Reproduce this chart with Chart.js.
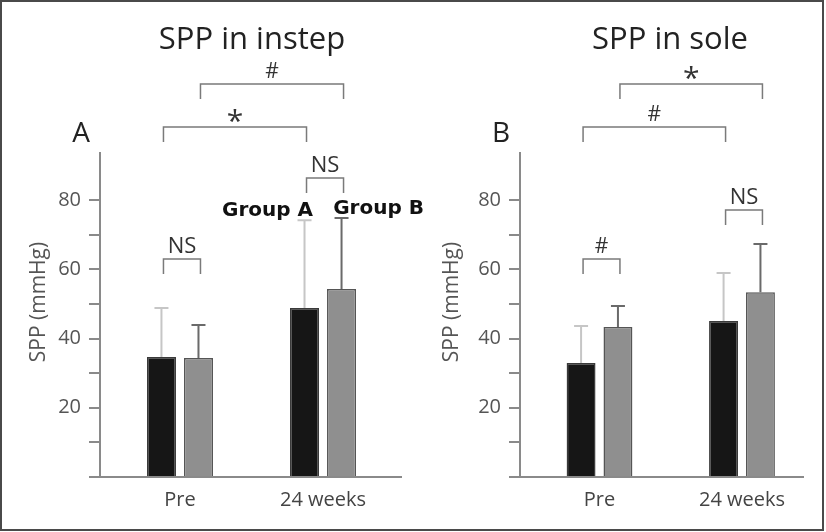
<!DOCTYPE html>
<html>
<head>
<meta charset="utf-8">
<script src="https://cdn.jsdelivr.net/npm/chart.js@4.4.0/dist/chart.umd.min.js"></script>
<style>
body { margin: 0; background: #fff; }
#wrap { position: relative; width: 826px; height: 532px; }
#frame { position: absolute; left: 0; top: 0; width: 824px; height: 531px; box-sizing: border-box; border: 2px solid #4a4a4a; pointer-events: none; }
canvas { position: absolute; top: 0; }
</style>
</head>
<body>
<div id="wrap">
  <canvas id="grafico1" width="440" height="532" style="left:0"></canvas>
  <canvas id="grafico2" width="413" height="532" style="left:413px"></canvas>
  <div id="frame"></div>
</div>
<script>
// dados //
const categorias = ['Pre', '24 weeks'];
const grupos = ['Group A', 'Group B'];
const instepGrupoA = [34.7, 48.8];
const instepGrupoASd = [14.1, 25.4];
const instepGrupoB = [34.4, 54.3];
const instepGrupoBSd = [9.5, 20.5];
const soleGrupoA = [32.9, 45.1];
const soleGrupoASd = [10.7, 13.8];
const soleGrupoB = [43.3, 53.4];
const soleGrupoBSd = [6.1, 13.9];
const yTicks = [20, 40, 60, 80];
// -------------------------------- //

const fonte = '"Open Sans", "Noto Sans", sans-serif';
const corEixo = '#8a8a8a';

function pontos(valores) {
    return valores.map((v, i) => ({ x: i, y: v }));
}

// plugin: barras de erro, colchetes e textos //
const pluginAnotacoes = {
    id: 'anotacoes',
    afterDatasetsDraw(chart) {
        const ctx = chart.ctx;
        const y = chart.scales.y;
        chart.data.datasets.forEach((ds, i) => {
            const meta = chart.getDatasetMeta(i);
            meta.data.forEach((bar, j) => {
                const topo = y.getPixelForValue(ds.data[j].y + ds.desvio[j]);
                ctx.save();
                ctx.strokeStyle = ds.corErro;
                ctx.lineWidth = 2;
                ctx.beginPath();
                ctx.moveTo(bar.x, bar.y);
                ctx.lineTo(bar.x, topo);
                ctx.moveTo(bar.x - 7, topo);
                ctx.lineTo(bar.x + 7, topo);
                ctx.stroke();
                ctx.restore();
            });
        });
    },
    afterDraw(chart, args, opts) {
        const ctx = chart.ctx;
        const y = chart.scales.y;
        const area = chart.chartArea;
        ctx.save();
        ctx.textAlign = 'center';
        ctx.textBaseline = 'alphabetic';

        // titulo //
        ctx.fillStyle = '#222';
        ctx.font = '31px ' + fonte;
        ctx.fillText(opts.titulo, opts.tituloX, 49);

        // letra do painel //
        ctx.font = '28px ' + fonte;
        ctx.fillText(opts.letra, area.left - 19, 142);

        // titulo do eixo y //
        ctx.save();
        ctx.fillStyle = '#555';
        ctx.font = '21px ' + fonte;
        ctx.translate(45, 302);
        ctx.rotate(-Math.PI / 2);
        ctx.fillText('SPP (mmHg)', 0, 0);
        ctx.restore();

        // colchetes //
        opts.colchetes.forEach(c => {
            const x1 = chart.getDatasetMeta(c.de[0]).data[c.de[1]].x + 2;
            const x2 = chart.getDatasetMeta(c.ate[0]).data[c.ate[1]].x + 2;
            const yb = y.getPixelForValue(c.nivel);
            ctx.strokeStyle = '#7a7a7a';
            ctx.lineWidth = 1.5;
            ctx.beginPath();
            ctx.moveTo(x1, yb + 15);
            ctx.lineTo(x1, yb);
            ctx.lineTo(x2, yb);
            ctx.lineTo(x2, yb + 15);
            ctx.stroke();
            const tam = c.texto === '*' ? 30 : (c.texto === '#' ? 21 : 22);
            ctx.font = tam + 'px ' + fonte;
            ctx.fillStyle = '#333';
            const m = ctx.measureText(c.texto);
            const cy = yb - (c.texto === '*' ? 11 : 14);
            ctx.fillText(c.texto, (x1 + x2) / 2, cy + (m.actualBoundingBoxAscent - m.actualBoundingBoxDescent) / 2);
        });

        // nomes dos grupos //
        if (opts.mostraGrupos) {
            ctx.fillStyle = '#111';
            ctx.font = 'bold 20px "DejaVu Sans", sans-serif';
            const a = chart.getDatasetMeta(0).data[1];
            const b = chart.getDatasetMeta(1).data[1];
            ctx.fillText(grupos[0], a.x - 37, 216);
            ctx.fillText(grupos[1], b.x + 37, 214);
        }
        ctx.restore();
    }
};

function criaGrafico(id, dadosA, sdA, dadosB, sdB, eixoX, padDir, xMin, xMax, anot) {
    return new Chart(document.getElementById(id), {
        type: 'bar',
        data: {
            datasets: [{
                label: grupos[0],
                data: pontos(dadosA),
                desvio: sdA,
                corErro: '#c6c6c6',
                backgroundColor: '#161616',
                borderColor: '#3a3a3a',
                borderWidth: 1.5
            }, {
                label: grupos[1],
                data: pontos(dadosB),
                desvio: sdB,
                corErro: '#6a6a6a',
                backgroundColor: '#8f8f8f',
                borderColor: '#555',
                borderWidth: 1.5
            }]
        },
        options: {
            responsive: false,
            animation: false,
            devicePixelRatio: 1,
            categoryPercentage: 0.5175,
            barPercentage: 0.784,
            layout: { padding: { top: 153, right: padDir, bottom: 0, left: 0 } },
            scales: {
                x: {
                    type: 'linear',
                    offset: false,
                    min: xMin,
                    max: xMax,
                    afterBuildTicks: s => { s.ticks = categorias.map((c, i) => ({ value: i })); },
                    afterFit: s => { s.height = 55; },
                    grid: { display: false, offset: false },
                    border: { display: true, color: corEixo, width: 2 },
                    ticks: {
                        callback: v => categorias[v],
                        font: { family: fonte, size: 20 },
                        color: '#444',
                        padding: 3,
                        maxRotation: 0
                    }
                },
                y: {
                    min: 0,
                    max: 93.6,
                    afterBuildTicks: s => { s.ticks = s.ticks.filter(t => t.value % 10 === 0); },
                    afterFit: s => { s.width = eixoX; },
                    grid: { drawOnChartArea: false, drawTicks: true, tickLength: 11, color: corEixo, lineWidth: 2 },
                    border: { display: true, color: corEixo, width: 2 },
                    ticks: {
                        stepSize: 10,
                        callback: v => yTicks.includes(v) ? v : '',
                        font: { family: fonte, size: 20 },
                        color: '#555',
                        padding: 8
                    }
                }
            },
            plugins: {
                legend: { display: false },
                tooltip: { enabled: false },
                anotacoes: anot
            }
        },
        plugins: [pluginAnotacoes]
    });
}

// Grafico A - instep //
criaGrafico('grafico1', instepGrupoA, instepGrupoASd, instepGrupoB, instepGrupoBSd, 100, 39, -0.559, 1.545, {
    titulo: 'SPP in instep',
    tituloX: 252,
    letra: 'A',
    mostraGrupos: true,
    colchetes: [
        { de: [0, 0], ate: [1, 0], nivel: 63.0, texto: 'NS' },
        { de: [0, 1], ate: [1, 1], nivel: 86.4, texto: 'NS' },
        { de: [0, 0], ate: [0, 1], nivel: 101.1, texto: '*' },
        { de: [1, 0], ate: [1, 1], nivel: 113.5, texto: '#' }
    ]
});

// Grafico B - sole //
criaGrafico('grafico2', soleGrupoA, soleGrupoASd, soleGrupoB, soleGrupoBSd, 107, 23, -0.558, 1.428, {
    titulo: 'SPP in sole',
    tituloX: 257,
    letra: 'B',
    mostraGrupos: false,
    colchetes: [
        { de: [0, 0], ate: [1, 0], nivel: 63.0, texto: '#' },
        { de: [0, 1], ate: [1, 1], nivel: 77.1, texto: 'NS' },
        { de: [0, 0], ate: [0, 1], nivel: 101.1, texto: '#' },
        { de: [1, 0], ate: [1, 1], nivel: 113.5, texto: '*' }
    ]
});
</script>
</body>
</html>
